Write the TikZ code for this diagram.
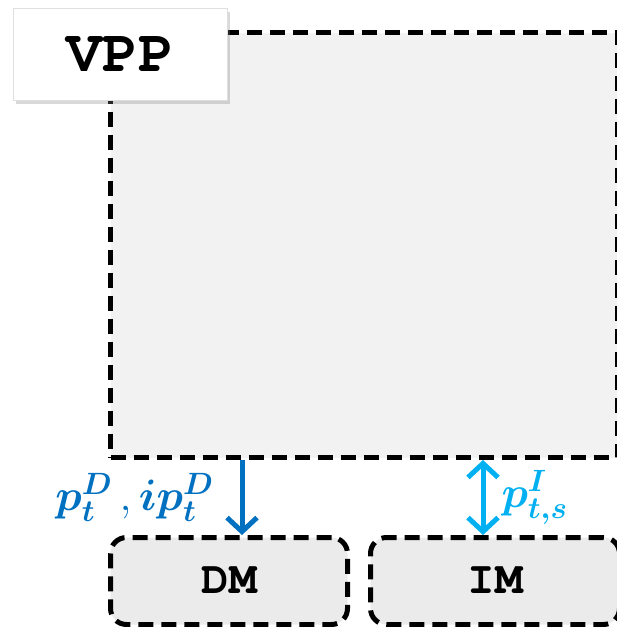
\documentclass[tikz,border=0pt]{standalone}
\usepackage{fix-cm}
\usepackage[T1,TU]{fontenc}
\usepackage{fontspec}
\usepackage{amsmath}
\usepackage{bm}
\usetikzlibrary{arrows.meta, shadows, positioning}

\definecolor{dmblue}{HTML}{0070C0}
\definecolor{imblue}{HTML}{00B0F0}
\definecolor{vppfill}{HTML}{F2F2F2}
\definecolor{modfill}{HTML}{EBEBEB}

\newcommand{\courierbf}{\fontencoding{T1}\fontfamily{pcr}\fontseries{b}\selectfont}

\tikzset{
	dashbox/.style = {draw, line width = 5pt, dash pattern = on 15pt off 8pt, inner sep = 0pt},
	modbox/.style = {dashbox, fill = modfill, rounded corners = 16pt, minimum height = 87pt,
		font = \fontsize{46}{50}\courierbf},
	flow/.style = {line width = 5pt, {Straight Barb[length = 14pt, width = 30pt, line width = 5pt]}-{Straight Barb[length = 14pt, width = 30pt, line width = 5pt]}},
	varlabel/.style = {font = \fontsize{44}{50}\selectfont, inner sep = 2pt}
}

\begin{document}
\begin{tikzpicture}[x = 1pt, y = -1pt]

	% Bounding box
	
	\useasboundingbox (0, 0) rectangle (617, 627);
	
	% VPP frame
	
	\node [dashbox, fill = vppfill, minimum width = 507pt, minimum height = 425pt, anchor = north west] (vpp) at (108, 30) {};
	
	\node [fill = white, draw = gray!25, line width = 0.8pt, minimum width = 214pt, minimum height = 92pt,
		drop shadow = {shadow xshift = 3pt, shadow yshift = -4pt, opacity = 0.3, fill = gray},
		font = \fontsize{60}{64}\courierbf, anchor = north west] (vpptitle) at (13, 8) {VPP};
	
	% Markets
	
	\node [modbox, minimum width = 237pt, anchor = north west] (dm) at (108, 535) {DM};
	\node [modbox, minimum width = 249pt, anchor = north west] (im) at (368, 535) {IM};
	
	% Power flows
	
	\coordinate (dmtop) at (242, 535);
	\coordinate (imtop) at (483, 535);
	
	\draw [flow, dmblue, -{Straight Barb[length = 14pt, width = 30pt, line width = 5pt]}] (dmtop |- vpp.south) -- node [varlabel, left = 24pt, dmblue] (dmlabel) {$\bm{p_t^D}\,,\bm{ip_t^D}$} (dmtop);
	\draw [flow, imblue] (imtop |- vpp.south) -- node [varlabel, right = 14pt, imblue] (imlabel) {$\bm{p_{t,s}^I}$} (imtop);

\end{tikzpicture}
\end{document}
